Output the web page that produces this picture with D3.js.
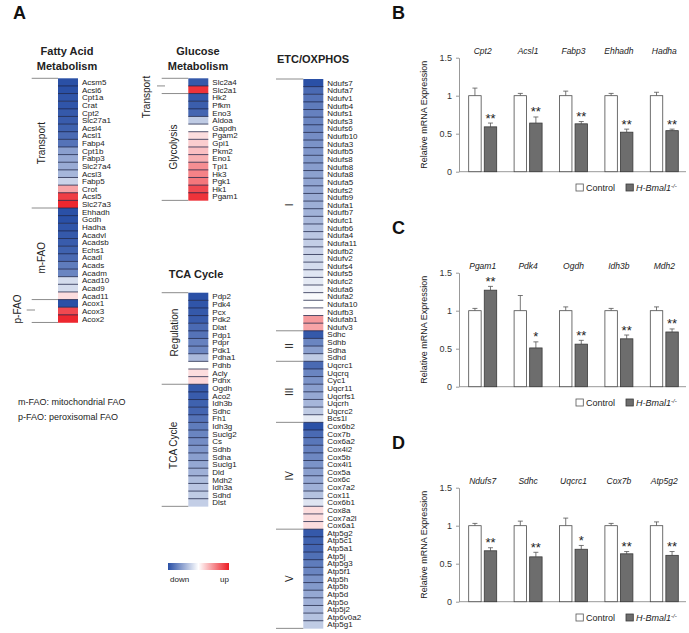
<!DOCTYPE html>
<html><head><meta charset="utf-8">
<script src="https://cdn.jsdelivr.net/npm/d3@7"></script>
<style>body{margin:0;background:#fff} svg{display:block;font-family:Arial,"Liberation Sans",Helvetica,sans-serif}</style>
</head><body><svg id="fig" width="689" height="633"></svg>
<script>
// ---------------- Heatmap data ----------------
const faGenes=["Acsm5","Acsl6","Cpt1a","Crat","Cpt2","Slc27a1","Acsl4","Acsl1","Fabp4","Cpt1b","Fabp3","Slc27a4","Acsl3","Fabp5","Crot","Acsl5","Slc27a3","Ehhadh","Gcdh","Hadha","Acadvl","Acadsb","Echs1","Acadl","Acads","Acadm","Acad10","Acad9","Acad11","Acox1","Acox3","Acox2"];
const faValues=[-1,-1,-0.97,-0.97,-0.95,-0.93,-0.9,-0.85,-0.8,-0.55,-0.5,-0.48,-0.42,-0.25,0.4,0.85,0.95,-1,-1,-0.97,-0.95,-0.93,-0.9,-0.85,-0.75,-0.7,-0.2,-0.2,0.15,-1,0.8,0.95];
const faGroups=["Transport","m-FAO","p-FAO"];
const faGroupSizes=[17,12,3];

const glcGenes=["Slc2a4","Slc2a1","Hk2","Pfkm","Eno3","Aldoa","Gapdh","Pgam2","Gpi1","Pkm2","Eno1","Tpi1","Hk3","Pgk1","Hk1","Pgam1"];
const glcValues=[-0.95,0.9,-0.95,-0.92,-0.88,-0.3,0,0.15,0.22,0.28,0.35,0.5,0.55,0.6,0.8,0.9];
const glcGroups=["Transport","Glycolysis"];
const glcGroupSizes=[2,14];

const tcaGenes=["Pdp2","Pdk4","Pcx","Pdk2","Dlat","Pdp1","Pdpr","Pdk1","Pdha1","Pdhb","Acly","Pdhx","Ogdh","Aco2","Idh3b","Sdhc","Fh1","Idh3g","Suclg2","Cs","Sdhb","Sdha","Suclg1","Dld","Mdh2","Idh3a","Sdhd","Dlst"];
const tcaValues=[-1,-0.97,-0.95,-0.93,-0.85,-0.8,-0.72,-0.68,-0.4,0,0.15,0.18,-0.95,-0.93,-0.9,-0.88,-0.8,-0.75,-0.7,-0.65,-0.6,-0.55,-0.5,-0.45,-0.38,-0.33,-0.3,-0.28];
const tcaGroups=["Regulation","TCA Cycle"];
const tcaGroupSizes=[12,16];

const etcGenes=["Ndufs7","Ndufa7","Ndufv1","Ndufb4","Ndufs1","Ndufs3","Ndufs6","Ndufb10","Ndufa3","Ndufb5","Ndufs8","Ndufb8","Ndufa8","Ndufa5","Ndufs2","Ndufb9","Ndufa1","Ndufb7","Ndufc1","Ndufb6","Ndufa4","Ndufa11","Ndufb2","Ndufv2","Ndufs4","Ndufs5","Ndufc2","Ndufa6","Ndufa2","Ndufa10","Ndufb3","Ndufab1","Ndufv3",
"Sdhc","Sdhb","Sdha","Sdhd",
"Uqcrc1","Uqcrq","Cyc1","Uqcr11","Uqcrfs1","Uqcrh","Uqcrc2","Bcs1l",
"Cox6b2","Cox7b","Cox6a2","Cox4i2","Cox5b","Cox4i1","Cox5a","Cox6c","Cox7a2","Cox11","Cox6b1","Cox8a","Cox7a2l","Cox6a1",
"Atp5g2","Atp5c1","Atp5a1","Atp5j","Atp5g3","Atp5f1","Atp5h","Atp5b","Atp5d","Atp5o","Atp5j2","Atp6v0a2","Atp5g1"];
const etcValues=[-1,-0.85,-0.8,-0.75,-0.72,-0.7,-0.68,-0.65,-0.62,-0.6,-0.58,-0.56,-0.54,-0.52,-0.5,-0.48,-0.46,-0.44,-0.4,-0.36,-0.32,-0.28,-0.25,-0.22,-0.2,-0.15,-0.12,-0.08,-0.03,0,0.02,0.45,0.4,
-0.95,-0.7,-0.55,-0.3,
-0.85,-0.7,-0.62,-0.55,-0.5,-0.42,-0.3,-0.12,
-1,-0.85,-0.78,-0.72,-0.68,-0.62,-0.55,-0.5,-0.45,-0.35,-0.15,0.15,0.15,0.15,
-0.95,-0.9,-0.88,-0.82,-0.75,-0.7,-0.62,-0.58,-0.5,-0.45,-0.4,-0.35,-0.3];
const etcGroups=["I","II","III","IV","V"];
const etcGroupSizes=[33,4,8,14,13];

// ---------------- Bar chart data ----------------
const bGenes=["Cpt2","Acsl1","Fabp3","Ehhadh","Hadha"];
const bControl=[1,1,1,1,1];
const bControlErr=[0.1,0.03,0.06,0.03,0.045];
const bKO=[0.59,0.64,0.63,0.52,0.54];
const bKOErr=[0.05,0.08,0.03,0.04,0.02];
const bStars=["**","**","**","**","**"];

const cGenes=["Pgam1","Pdk4","Ogdh","Idh3b","Mdh2"];
const cControl=[1,1,1,1,1];
const cControlErr=[0.03,0.2,0.05,0.03,0.05];
const cKO=[1.27,0.51,0.56,0.63,0.72];
const cKOErr=[0.05,0.08,0.05,0.05,0.04];
const cStars=["**","*","**","**","**"];

const dGenes=["Ndufs7","Sdhc","Uqcrc1","Cox7b","Atp5g2"];
const dControl=[1,1,1,1,1];
const dControlErr=[0.03,0.06,0.1,0.03,0.05];
const dKO=[0.67,0.59,0.69,0.63,0.61];
const dKOErr=[0.04,0.06,0.05,0.03,0.05];
const dStars=["**","**","*","**","**"];

const yTicks=[0,0.5,1,1.5];

// ---------------- Drawing ----------------
const svg=d3.select("#fig");
const txt="#222";
const rowH=7.63;
const color=d3.scaleLinear().domain([-1,0,1]).range(["#2a50a6","#ffffff","#ec1c24"]);

function heat(genes, values, groups, sizes, x, top){
  const y=d3.scaleBand().domain(genes.map((g,i)=>i)).range([top, top+genes.length*rowH]);
  const g=svg.append("g");
  g.selectAll("rect.cell").data(values).join("rect").attr("class","cell")
    .attr("x",x).attr("y",(d,i)=>y(i)).attr("width",20).attr("height",y.bandwidth()+0.3)
    .attr("fill",d=>color(d));
  g.selectAll("line.sep").data(values.slice(1)).join("line").attr("class","sep")
    .attr("x1",x).attr("x2",x+20).attr("y1",(d,i)=>y(i+1)).attr("y2",(d,i)=>y(i+1))
    .attr("stroke","#1d2446").attr("stroke-opacity",0.85).attr("stroke-width",0.9);
  g.selectAll("text.gene").data(genes).join("text").attr("class","gene")
    .attr("x",x+24).attr("y",(d,i)=>y(i)+y.bandwidth()/2).attr("dy","0.36em")
    .attr("font-size",8).attr("fill",txt).text(d=>d);
  const cum=[0]; sizes.forEach(s=>cum.push(cum[cum.length-1]+s));
  const bY=i=> i<genes.length ? y(i) : y(genes.length-1)+y.bandwidth();
  return {y, cum, bY};
}
function brackets(h, x1, x2){
  svg.append("g").selectAll("line").data(h.cum).join("line")
    .attr("x1",x1).attr("x2",x2).attr("y1",d=>h.bY(d)).attr("y2",d=>h.bY(d))
    .attr("stroke","#8c8c8c").attr("stroke-width",1);
}
function vlabel(t,x,yc,fs){
  svg.append("text").attr("transform",`translate(${x},${yc}) rotate(-90)`)
    .attr("text-anchor","middle").attr("dy","0.35em").attr("font-size",fs||10).attr("fill",txt).text(t);
}
function tick(x1,x2,y){
  svg.append("line").attr("x1",x1).attr("x2",x2).attr("y1",y).attr("y2",y).attr("stroke","#8c8c8c").attr("stroke-width",1);
}
function title(lines,x,y){
  lines.forEach((l,i)=>svg.append("text").attr("x",x).attr("y",y+i*14.5).attr("text-anchor","middle")
    .attr("font-size",11).attr("font-weight","bold").attr("fill",txt).text(l));
}

// Fatty acid
title(["Fatty Acid","Metabolism"],67,55);
const fa=heat(faGenes,faValues,faGroups,faGroupSizes,58,78.3);
brackets(fa,31.7,58);
vlabel(faGroups[0],41.5,(fa.bY(0)+fa.bY(17))/2);
vlabel(faGroups[1],41.5,(fa.bY(17)+fa.bY(29))/2+4);
vlabel(faGroups[2],17.5,(fa.bY(29)+fa.bY(32))/2-2);
tick(26.7,35,(fa.bY(29)+fa.bY(32))/2-1);
svg.append("text").attr("x",18).attr("y",405).attr("font-size",9).attr("fill",txt).text("m-FAO: mitochondrial FAO");
svg.append("text").attr("x",18).attr("y",420).attr("font-size",9).attr("fill",txt).text("p-FAO: peroxisomal FAO");

// Glucose
title(["Glucose","Metabolism"],198,55);
const gl=heat(glcGenes,glcValues,glcGroups,glcGroupSizes,188.3,78.3);
brackets(gl,161.7,188.3);
vlabel(glcGroups[0],146.5,97);
tick(157,165,gl.bY(1));
vlabel(glcGroups[1],173.5,(gl.bY(2)+gl.bY(16))/2);

// TCA
title(["TCA Cycle"],196,278);
const tc=heat(tcaGenes,tcaValues,tcaGroups,tcaGroupSizes,188.3,292.7);
brackets(tc,161.7,188.3);
vlabel(tcaGroups[0],174,(tc.bY(0)+tc.bY(12))/2-6);
vlabel(tcaGroups[1],173,(tc.bY(12)+tc.bY(28))/2);

// ETC
title(["ETC/OXPHOS"],313,63);
const et=heat(etcGenes,etcValues,etcGroups,etcGroupSizes,303.3,79);
brackets(et,276,303.3);
etcGroups.forEach((gname,i)=>vlabel(gname,289,(et.bY(et.cum[i])+et.bY(et.cum[i+1]))/2,10));

// Color legend
const defs=svg.append("defs");
const grad=defs.append("linearGradient").attr("id","grad");
[[0,color(-1)],[0.5,color(0)],[1,color(1)]].forEach(s=>grad.append("stop").attr("offset",s[0]).attr("stop-color",s[1]));
svg.append("rect").attr("x",168).attr("y",563).attr("width",61).attr("height",7).attr("fill","url(#grad)");
svg.append("text").attr("x",170).attr("y",582).attr("font-size",8).attr("fill",txt).text("down");
svg.append("text").attr("x",229).attr("y",582).attr("text-anchor","end").attr("font-size",8).attr("fill",txt).text("up");

// Panel letters
[["A",13,19],["B",392,19],["C",392,234],["D",392,449]].forEach(p=>
  svg.append("text").attr("x",p[1]).attr("y",p[2]).attr("font-size",18).attr("font-weight","bold").attr("fill","#111").text(p[0]));

// Bar charts
function barChart(off, genes, ctrl, ctrlErr, ko, koErr, stars){
  const y=d3.scaleLinear().domain([0,1.5]).range([171.7+off,57.7+off]);
  const x0=d3.scaleBand().domain(genes).range([459,686]);
  const x1=d3.scaleBand().domain(["c","k"]).range([0,28]).paddingInner(0.2);
  const g=svg.append("g");
  const start=gname=>x0(gname)+(x0.bandwidth()-28)/2+1;
  g.append("line").attr("x1",459).attr("x2",686).attr("y1",y(0)).attr("y2",y(0)).attr("stroke","#999");
  const ax=g.append("g").attr("transform","translate(459,0)")
    .call(d3.axisLeft(y).tickValues(yTicks).tickFormat(d3.format("~g")).tickSize(3).tickSizeOuter(0).tickPadding(4));
  ax.select(".domain").attr("stroke","#999");
  ax.selectAll(".tick line").attr("stroke","#999");
  ax.selectAll("text").attr("font-size",9).attr("fill","#333").attr("font-family","Arial,'Liberation Sans',sans-serif");
  const rows=genes.map((gn,i)=>({gn,c:ctrl[i],ce:ctrlErr[i],k:ko[i],ke:koErr[i],s:stars[i]}));
  const eb=(xc,v,e)=>{
    g.append("line").attr("x1",xc).attr("x2",xc).attr("y1",y(v)).attr("y2",y(v+e)).attr("stroke","#555").attr("stroke-width",0.8);
    g.append("line").attr("x1",xc-2.5).attr("x2",xc+2.5).attr("y1",y(v+e)).attr("y2",y(v+e)).attr("stroke","#555").attr("stroke-width",0.8);
  };
  rows.forEach(r=>{
    const bw=x1.bandwidth();
    eb(start(r.gn)+x1("c")+bw/2,r.c,r.ce); eb(start(r.gn)+x1("k")+bw/2,r.k,r.ke);
  });
  g.selectAll("rect.c").data(rows).join("rect").attr("class","c")
    .attr("x",d=>start(d.gn)+x1("c")).attr("y",d=>y(d.c)).attr("width",x1.bandwidth()).attr("height",d=>y(0)-y(d.c))
    .attr("fill","#fff").attr("stroke","#4a4a4a").attr("stroke-width",0.8);
  g.selectAll("rect.k").data(rows).join("rect").attr("class","k")
    .attr("x",d=>start(d.gn)+x1("k")).attr("y",d=>y(d.k)).attr("width",x1.bandwidth()).attr("height",d=>y(0)-y(d.k))
    .attr("fill","#6d6d6d").attr("stroke","#3a3a3a").attr("stroke-width",0.8);
  g.selectAll("text.st").data(rows).join("text").attr("class","st")
    .attr("x",d=>start(d.gn)+x1("k")+x1.bandwidth()/2).attr("y",d=>y(d.k+d.ke)-0.5)
    .attr("text-anchor","middle").attr("font-size",13).attr("fill","#222").text(d=>d.s);
  g.selectAll("text.gn").data(rows).join("text").attr("class","gn")
    .attr("x",d=>start(d.gn)+14).attr("y",y(1.5)-3.5).attr("text-anchor","middle")
    .attr("font-size",8.5).attr("font-style","italic").attr("fill","#222").text(d=>d.gn);
  g.append("text").attr("transform",`translate(424,${(y(0)+y(1.5))/2}) rotate(-90)`).attr("text-anchor","middle")
    .attr("dy","0.35em").attr("font-size",9).attr("fill","#222").text("Relative mRNA Expression");
  const ly=y(0)+12.3;
  g.append("rect").attr("x",576).attr("y",ly).attr("width",7.3).attr("height",7).attr("fill","#fff").attr("stroke","#555").attr("stroke-width",0.8);
  g.append("text").attr("x",586).attr("y",ly+7).attr("font-size",9).attr("fill","#222").text("Control");
  g.append("rect").attr("x",626).attr("y",ly).attr("width",7.3).attr("height",7).attr("fill","#6d6d6d").attr("stroke","#3a3a3a").attr("stroke-width",0.8);
  const t=g.append("text").attr("x",636).attr("y",ly+7).attr("font-size",9).attr("font-style","italic").attr("fill","#222");
  t.append("tspan").text("H-Bmal1");
  t.append("tspan").attr("dy",-3.5).attr("font-size",6).text("-/-");
}
barChart(0,bGenes,bControl,bControlErr,bKO,bKOErr,bStars);
barChart(215,cGenes,cControl,cControlErr,cKO,cKOErr,cStars);
barChart(430,dGenes,dControl,dControlErr,dKO,dKOErr,dStars);
</script>
</body></html>
